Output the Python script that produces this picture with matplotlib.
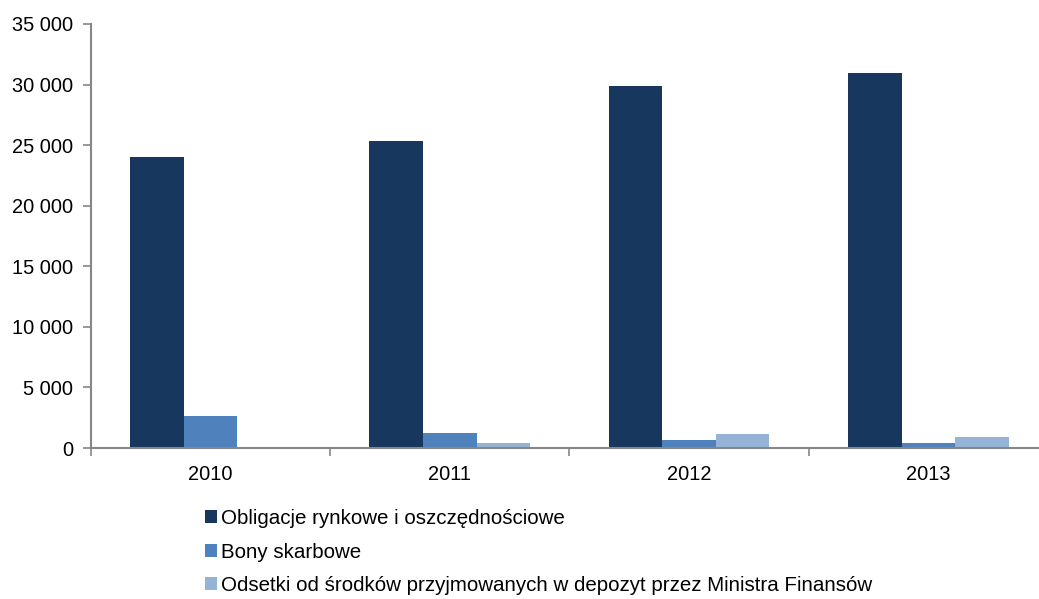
import numpy as np
import matplotlib.pyplot as plt
from matplotlib.ticker import FuncFormatter

plt.rcParams['font.family'] = ['Liberation Sans', 'DejaVu Sans']

years = ['2010', '2011', '2012', '2013']
obligacje = [24030, 25350, 29890, 30960]
bony = [2670, 1240, 630, 380]
odsetki = [0, 440, 1160, 910]

series = [
    ('Obligacje rynkowe i oszczędnościowe', obligacje, '#17375e'),
    ('Bony skarbowe', bony, '#4f81bd'),
    ('Odsetki od środków przyjmowanych w depozyt przez Ministra Finansów', odsetki, '#95b3d7'),
]

fig = plt.figure(figsize=(10.39, 5.99), dpi=100)
ax = fig.add_axes([0.0876, 0.252, 0.921, 0.708])

x = np.arange(len(years))
w = 0.224
for i, (name, vals, col) in enumerate(series):
    ax.bar(x + (i - 1) * w, vals, w, color=col, label=name, zorder=2)

ax.set_xlim(-0.5, len(years) - 0.5)
ax.set_ylim(0, 35000)
ax.set_yticks(np.arange(0, 35001, 5000))
ax.yaxis.set_major_formatter(FuncFormatter(lambda v, p: f'{int(v):,}'.replace(',', ' ')))

ax.set_xticks(x)
ax.set_xticklabels(years)
ax.set_xticks(np.arange(-0.5, len(years), 1), minor=True)
ax.tick_params(axis='x', which='major', length=0, pad=12, labelsize=14.4)
ax.tick_params(axis='x', which='minor', length=6, color='#868686', width=1.2)
ax.tick_params(axis='y', length=6, color='#868686', width=1.2, labelsize=14.4, pad=7)

for s in ['top', 'right']:
    ax.spines[s].set_visible(False)
for s in ['left', 'bottom']:
    ax.spines[s].set_color('#868686')
    ax.spines[s].set_linewidth(1.5)

fig.legend(loc='upper left', bbox_to_anchor=(0.197, 0.150), frameon=False,
           fontsize=14.8, handlelength=0.6, handleheight=0.6, handletextpad=0.2,
           labelspacing=0.7, borderaxespad=0, borderpad=0)

fig.savefig('out.png', dpi=100)
